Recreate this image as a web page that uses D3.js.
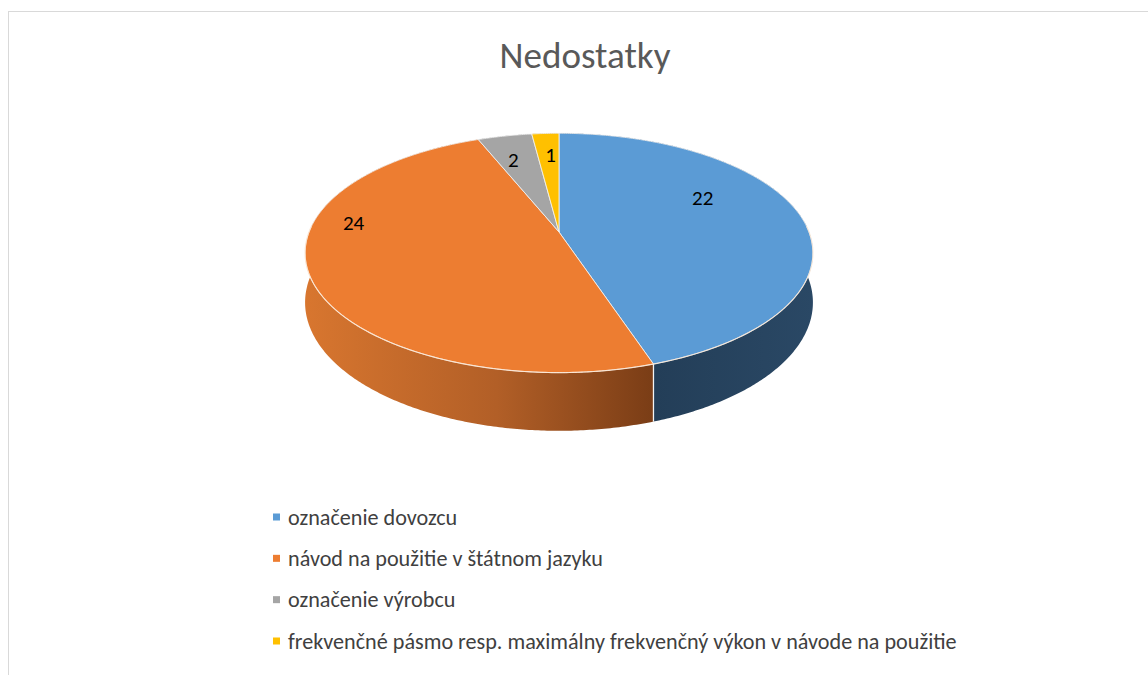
<!DOCTYPE html>
<html>
<head>
<meta charset="utf-8">
<script src="https://cdn.jsdelivr.net/npm/d3@7"></script>
<style>
  html, body { margin: 0; padding: 0; background: #fff; }
  svg { display: block; }
</style>
</head>
<body>
<svg id="chart" width="1148" height="675"></svg>
<script>
// ---- data ----
const title = "Nedostatky";
const categories = [
  "označenie dovozcu",
  "návod na použitie v štátnom jazyku",
  "označenie výrobcu",
  "frekvenčné pásmo resp. maximálny frekvenčný výkon v návode na použitie"
];
const values = [22, 24, 2, 1];
const colors = ["#5B9BD5", "#ED7D31", "#A5A5A5", "#FFC000"];

// ---- layout ----
const W = 1148, H = 675;
const FONT = "Carlito, Calibri, 'Liberation Sans Narrow', Lato, 'Open Sans', sans-serif";
const cx = 559, cy = 232, A = 250, B = 116, K = 0.175, D = 48;

const svg = d3.select("#chart");

// border
svg.append("rect").attr("x", 8.5).attr("y", 11.5).attr("width", W + 20).attr("height", H + 20)
  .attr("fill", "#fff").attr("stroke", "#d9d9d9").attr("stroke-width", 1);

// projection of a point on the disk: theta clockwise from 12 o'clock (back), f = radial fraction, h = depth fraction
function proj(theta, f = 1, h = 0) {
  const u = Math.sin(theta) * f, v = -Math.cos(theta) * f;
  const s = 1 / (1 - K * v);
  return [cx + A * u * s, cy + B * v * s + h * D * s];
}
function arcPts(a0, a1, f, h) {
  const n = Math.max(2, Math.ceil(Math.abs(a1 - a0) / 0.01));
  const pts = [];
  for (let i = 0; i <= n; i++) pts.push(proj(a0 + (a1 - a0) * i / n, f, h));
  return pts;
}

const pie = d3.pie().sort(null).value(d => d)(values);
const line = d3.line();

// gradients
const defs = svg.append("defs");
const sideGrad = [
  [["0%", "#2a4865"], ["100%", "#1f3850"]],
  [["0%", "#d8762f"], ["55%", "#b25f27"], ["100%", "#7a3d16"]],
  [["0%", "#7a7a7a"], ["100%", "#6a6a6a"]],
  [["0%", "#b88a00"], ["100%", "#a07800"]]
];
pie.forEach((p, i) => {
  const g = defs.append("linearGradient").attr("id", "side" + i)
    .attr("gradientUnits", "userSpaceOnUse");
  const xs = arcPts(p.startAngle, p.endAngle, 1, 0).map(d => d[0]);
  const x0 = d3.min(xs), x1 = d3.max(xs);
  if (i === 0) { g.attr("x1", x1).attr("x2", x0); } else { g.attr("x1", x0).attr("x2", x1); }
  g.attr("y1", 0).attr("y2", 0);
  sideGrad[i].forEach(([o, c]) => g.append("stop").attr("offset", o).attr("stop-color", c));
});

// side walls
const gWalls = svg.append("g");
pie.forEach((p, i) => {
  const top = arcPts(p.startAngle, p.endAngle, 1, 0);
  const bot = arcPts(p.startAngle, p.endAngle, 1, 1).reverse();
  gWalls.append("path").attr("d", line(top.concat(bot)) + "Z")
    .attr("fill", `url(#side${i})`);
});
// vertical seam at visible slice boundary on the front
pie.forEach(p => {
  const a = p.endAngle;
  const v = -Math.cos(a);
  if (v > 0.1) {
    const t = proj(a, 1, 0), b = proj(a, 1, 1);
    gWalls.append("line").attr("x1", t[0]).attr("y1", t[1]).attr("x2", b[0]).attr("y2", b[1])
      .attr("stroke", "#f4f4f4").attr("stroke-width", 1.3);
  }
});

// top faces
const gTop = svg.append("g");
pie.forEach((p, i) => {
  const pts = [proj(0, 0, 0)].concat(arcPts(p.startAngle, p.endAngle, 1, 0));
  gTop.append("path").attr("d", line(pts) + "Z")
    .attr("fill", colors[i]).attr("stroke", "#f2f2f2").attr("stroke-width", 1).attr("stroke-opacity", 0.85)
    .attr("stroke-linejoin", "round");
});
// highlight rim along the front edge
gTop.append("path").attr("d", line(arcPts(Math.PI / 2 - 0.05, 3 * Math.PI / 2 + 0.05, 1, 0)))
  .attr("fill", "none").attr("stroke", "#ffe9d6").attr("stroke-opacity", 0.7).attr("stroke-width", 1.2);

// data labels (placed on the top face, nudged toward the back-left like the original renderer)
const gLab = svg.append("g");
pie.forEach((p, i) => {
  const mid = (p.startAngle + p.endAngle) / 2;
  const pt = proj(mid, 0.72, 0);
  const u = Math.sin(mid), v = -Math.cos(mid);
  const dx = -31 * Math.abs(u) + 4 * (1 - Math.abs(u));
  const lift = Math.abs(u) * (28 + 40 * v) + 4 * (1 - Math.abs(u));
  gLab.append("text").attr("x", pt[0] + dx).attr("y", pt[1] - lift)
    .attr("text-anchor", "middle").attr("dominant-baseline", "central")
    .attr("font-family", FONT).attr("font-size", 21).attr("fill", "#000")
    .text(values[i]);
});

// title
const t = svg.append("text").attr("x", 585).attr("y", 68).attr("text-anchor", "middle")
  .attr("font-family", FONT).attr("font-weight", 300).attr("font-size", 36).attr("fill", "#595959").text(title);
{
  const w = t.node().getComputedTextLength();
  t.attr("font-size", 36 * 171 / w);
}

// legend
const gLeg = svg.append("g");
const rowY = d3.scalePoint().domain(d3.range(categories.length)).range([517, 641]);
const items = categories.map((c, i) => {
  const y = rowY(i);
  gLeg.append("rect").attr("x", 273).attr("y", y - 3.5).attr("width", 7).attr("height", 7).attr("fill", colors[i]);
  return gLeg.append("text").attr("x", 288).attr("y", y).attr("dominant-baseline", "central")
    .attr("font-family", FONT).attr("font-size", 18).attr("fill", "#404040").text(c);
});
{
  const w = items[3].node().getComputedTextLength();
  const fs = 18 * 669 / w;
  items.forEach(it => it.attr("font-size", fs));
}
</script>
</body>
</html>
